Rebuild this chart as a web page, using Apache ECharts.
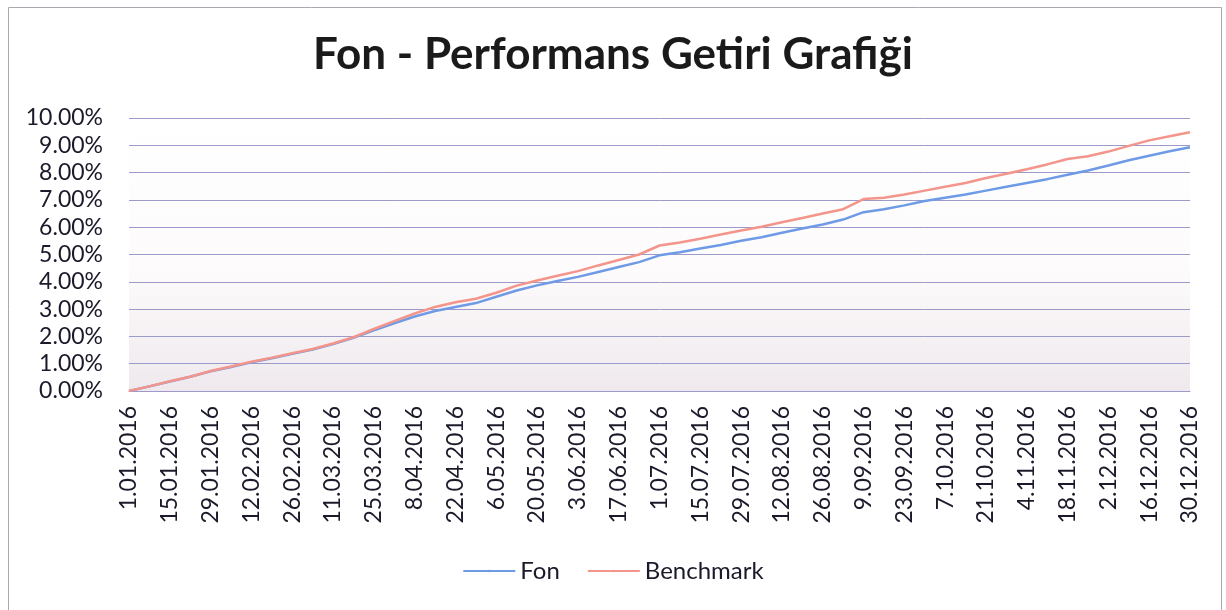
<!DOCTYPE html>
<html>
<head>
<meta charset="utf-8">
<script src="https://cdn.jsdelivr.net/npm/echarts@6/dist/echarts.min.js"></script>
<style>
  html, body { margin: 0; padding: 0; background: #fff; }
  #chart { width: 1226px; height: 610px; }
</style>
</head>
<body>
<div id="chart"></div>
<script>
// haftalık tarihler (her iki etiketten biri gösteriliyor)
const dates = [
  '1.01.2016', '8.01.2016', '15.01.2016', '22.01.2016', '29.01.2016', '5.02.2016',
  '12.02.2016', '19.02.2016', '26.02.2016', '4.03.2016', '11.03.2016', '18.03.2016',
  '25.03.2016', '1.04.2016', '8.04.2016', '15.04.2016', '22.04.2016', '29.04.2016',
  '6.05.2016', '13.05.2016', '20.05.2016', '27.05.2016', '3.06.2016', '10.06.2016',
  '17.06.2016', '24.06.2016', '1.07.2016', '8.07.2016', '15.07.2016', '22.07.2016',
  '29.07.2016', '5.08.2016', '12.08.2016', '19.08.2016', '26.08.2016', '2.09.2016',
  '9.09.2016', '16.09.2016', '23.09.2016', '30.09.2016', '7.10.2016', '14.10.2016',
  '21.10.2016', '28.10.2016', '4.11.2016', '11.11.2016', '18.11.2016', '25.11.2016',
  '2.12.2016', '9.12.2016', '16.12.2016', '23.12.2016', '30.12.2016'
];

// getiri (%)
const fon = [
  0.00, 0.17, 0.35, 0.52, 0.72, 0.88, 1.05, 1.20, 1.36, 1.52, 1.72, 1.95,
  2.22, 2.48, 2.73, 2.93, 3.08, 3.22, 3.45, 3.68, 3.87, 4.03, 4.18, 4.36,
  4.54, 4.72, 4.97, 5.08, 5.22, 5.35, 5.50, 5.63, 5.80, 5.95, 6.10, 6.28,
  6.55, 6.66, 6.80, 6.96, 7.08, 7.20, 7.34, 7.48, 7.62, 7.76, 7.92, 8.08,
  8.26, 8.45, 8.62, 8.78, 8.93
];
const benchmark = [
  0.00, 0.17, 0.36, 0.52, 0.73, 0.90, 1.07, 1.22, 1.38, 1.54, 1.74, 1.97,
  2.27, 2.56, 2.84, 3.08, 3.25, 3.38, 3.60, 3.86, 4.05, 4.22, 4.39, 4.60,
  4.80, 5.00, 5.33, 5.44, 5.58, 5.73, 5.88, 6.02, 6.18, 6.34, 6.50, 6.66,
  7.03, 7.08, 7.20, 7.34, 7.48, 7.62, 7.80, 7.96, 8.12, 8.30, 8.50, 8.60,
  8.77, 8.98, 9.18, 9.33, 9.48
];

const FONT = 'Lato';
const chart = echarts.init(document.getElementById('chart'));

chart.setOption({
  backgroundColor: '#fff',
  animation: false,
  title: {
    text: 'Fon - Performans Getiri Grafiği',
    left: 'center',
    top: 28,
    textStyle: { fontFamily: FONT, fontSize: 44, fontWeight: 'bold', color: '#1a1a1a' }
  },
  legend: {
    bottom: 22,
    left: 'center',
    itemWidth: 52,
    itemHeight: 3,
    itemGap: 27,
    textStyle: { fontFamily: FONT, fontSize: 24, color: '#1a1a2a' },
    data: ['Fon', 'Benchmark']
  },
  grid: {
    left: 129, right: 36, top: 118, bottom: 219,
    show: true,
    borderWidth: 0,
    backgroundColor: new echarts.graphic.LinearGradient(0, 0, 0, 1, [
      { offset: 0, color: '#ffffff' },
      { offset: 0.55, color: '#fdfbfc' },
      { offset: 1, color: '#efe9ed' }
    ])
  },
  xAxis: {
    type: 'category',
    data: dates,
    boundaryGap: false,
    axisLine: { show: true, lineStyle: { color: '#9c9ac8' } },
    axisTick: { show: false },
    axisLabel: {
      interval: 1,
      rotate: 90,
      margin: 15,
      fontFamily: FONT,
      fontSize: 23,
      color: '#1a1a2a'
    }
  },
  yAxis: {
    type: 'value',
    min: 0,
    max: 10,
    interval: 1,
    axisLine: { show: false },
    axisTick: { show: false },
    splitLine: { lineStyle: { color: '#9c9ac8', width: 1 } },
    axisLabel: {
      margin: 26,
      fontFamily: FONT,
      fontSize: 23,
      color: '#1a1a2a',
      formatter: v => v.toFixed(2) + '%'
    }
  },
  series: [
    {
      name: 'Fon',
      type: 'line',
      data: fon,
      symbol: 'none',
      lineStyle: { color: '#6e9ae6', width: 2.5 },
      itemStyle: { color: '#6e9ae6' }
    },
    {
      name: 'Benchmark',
      type: 'line',
      data: benchmark,
      symbol: 'none',
      lineStyle: { color: '#f3958b', width: 2.5 },
      itemStyle: { color: '#f3958b' }
    }
  ],
  graphic: [{
    type: 'rect',
    silent: true,
    shape: { x: 8.5, y: 7.5, width: 1213, height: 620 },
    style: { fill: 'none', stroke: '#a8a8b0', lineWidth: 1 }
  }]
});
</script>
</body>
</html>
